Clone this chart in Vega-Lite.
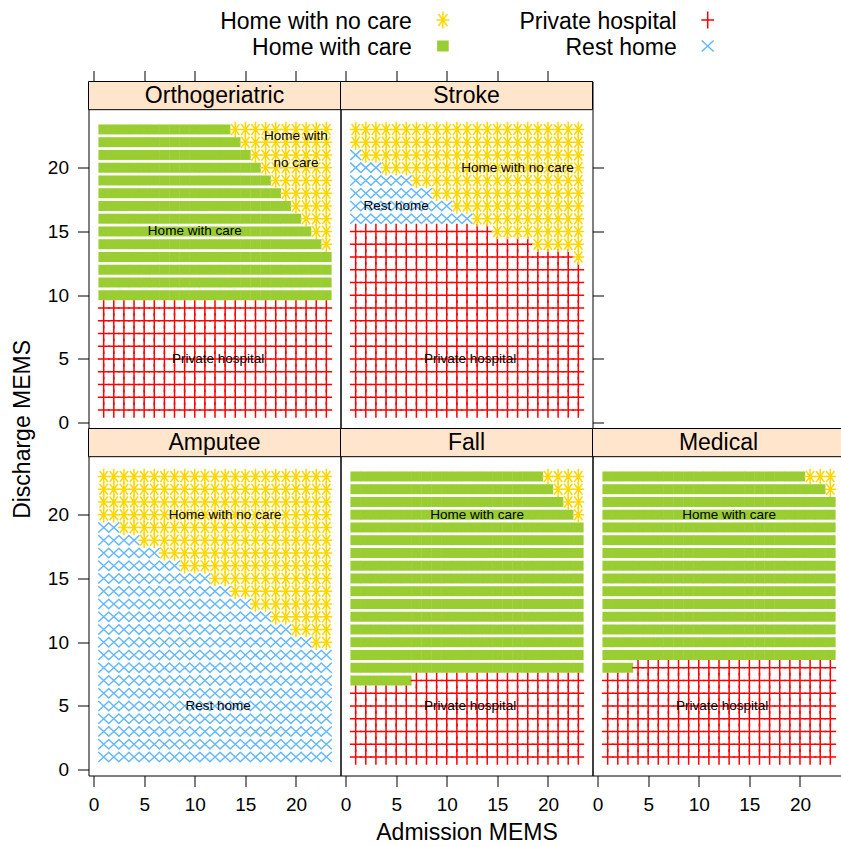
{
"$schema": "https://vega.github.io/schema/vega-lite/v6.json",
"background": "white",
"padding": {"left": 10.5, "top": 7.5, "right": -3.5, "bottom": 0},
"config": {
  "font": "Liberation Sans",
  "view": {"stroke": "black", "strokeWidth": 1},
  "axis": {"domain": false, "grid": false, "ticks": true, "tickSize": 11, "tickColor": "black", "tickWidth": 1, "labelFontSize": 19, "labelColor": "black", "labelFlush": false, "labelOverlap": false, "titleFontSize": 23, "titleFontWeight": "normal", "titleColor": "black"}
},
"datasets": {
  "legend": [
    {"destination": "Home with no care", "lcol": 1, "lrow": 1},
    {"destination": "Home with care", "lcol": 1, "lrow": 2},
    {"destination": "Private hospital", "lcol": 2, "lrow": 1},
    {"destination": "Rest home", "lcol": 2, "lrow": 2}
  ],
  "strips": [
    {"panel": "Orthogeriatric"}, {"panel": "Stroke"}, {"panel": "Amputee"}, {"panel": "Fall"}, {"panel": "Medical"}
  ],
  "labels": [
    {"panel": "Orthogeriatric", "text": "Home with\nno care", "x": 20, "y": 22.5},
    {"panel": "Orthogeriatric", "text": "Home with care", "x": 10, "y": 15},
    {"panel": "Orthogeriatric", "text": "Private hospital", "x": 12.3, "y": 5},
    {"panel": "Stroke", "text": "Home with no care", "x": 17, "y": 20},
    {"panel": "Stroke", "text": "Rest home", "x": 5, "y": 17},
    {"panel": "Stroke", "text": "Private hospital", "x": 12.3, "y": 5},
    {"panel": "Amputee", "text": "Home with no care", "x": 13, "y": 20},
    {"panel": "Amputee", "text": "Rest home", "x": 12.3, "y": 5},
    {"panel": "Fall", "text": "Home with care", "x": 13, "y": 20},
    {"panel": "Fall", "text": "Private hospital", "x": 12.3, "y": 5},
    {"panel": "Medical", "text": "Home with care", "x": 13, "y": 20},
    {"panel": "Medical", "text": "Private hospital", "x": 12.3, "y": 5}
  ],
  "points": [
    {"panel":"Orthogeriatric","discharge":10,"destination":"Home with care","admission":[1,2,3,4,5,6,7,8,9,10,11,12,13,14,15,16,17,18,19,20,21,22,23]},
    {"panel":"Orthogeriatric","discharge":11,"destination":"Home with care","admission":[1,2,3,4,5,6,7,8,9,10,11,12,13,14,15,16,17,18,19,20,21,22,23]},
    {"panel":"Orthogeriatric","discharge":12,"destination":"Home with care","admission":[1,2,3,4,5,6,7,8,9,10,11,12,13,14,15,16,17,18,19,20,21,22,23]},
    {"panel":"Orthogeriatric","discharge":13,"destination":"Home with care","admission":[1,2,3,4,5,6,7,8,9,10,11,12,13,14,15,16,17,18,19,20,21,22,23]},
    {"panel":"Orthogeriatric","discharge":14,"destination":"Home with care","admission":[1,2,3,4,5,6,7,8,9,10,11,12,13,14,15,16,17,18,19,20,21,22]},
    {"panel":"Orthogeriatric","discharge":15,"destination":"Home with care","admission":[1,2,3,4,5,6,7,8,9,10,11,12,13,14,15,16,17,18,19,20,21]},
    {"panel":"Orthogeriatric","discharge":16,"destination":"Home with care","admission":[1,2,3,4,5,6,7,8,9,10,11,12,13,14,15,16,17,18,19,20]},
    {"panel":"Orthogeriatric","discharge":17,"destination":"Home with care","admission":[1,2,3,4,5,6,7,8,9,10,11,12,13,14,15,16,17,18,19]},
    {"panel":"Orthogeriatric","discharge":18,"destination":"Home with care","admission":[1,2,3,4,5,6,7,8,9,10,11,12,13,14,15,16,17,18]},
    {"panel":"Orthogeriatric","discharge":19,"destination":"Home with care","admission":[1,2,3,4,5,6,7,8,9,10,11,12,13,14,15,16,17]},
    {"panel":"Orthogeriatric","discharge":20,"destination":"Home with care","admission":[1,2,3,4,5,6,7,8,9,10,11,12,13,14,15,16]},
    {"panel":"Orthogeriatric","discharge":21,"destination":"Home with care","admission":[1,2,3,4,5,6,7,8,9,10,11,12,13,14,15]},
    {"panel":"Orthogeriatric","discharge":22,"destination":"Home with care","admission":[1,2,3,4,5,6,7,8,9,10,11,12,13,14]},
    {"panel":"Orthogeriatric","discharge":23,"destination":"Home with care","admission":[1,2,3,4,5,6,7,8,9,10,11,12,13]},
    {"panel":"Orthogeriatric","discharge":1,"destination":"Private hospital","admission":[1,2,3,4,5,6,7,8,9,10,11,12,13,14,15,16,17,18,19,20,21,22,23]},
    {"panel":"Orthogeriatric","discharge":2,"destination":"Private hospital","admission":[1,2,3,4,5,6,7,8,9,10,11,12,13,14,15,16,17,18,19,20,21,22,23]},
    {"panel":"Orthogeriatric","discharge":3,"destination":"Private hospital","admission":[1,2,3,4,5,6,7,8,9,10,11,12,13,14,15,16,17,18,19,20,21,22,23]},
    {"panel":"Orthogeriatric","discharge":4,"destination":"Private hospital","admission":[1,2,3,4,5,6,7,8,9,10,11,12,13,14,15,16,17,18,19,20,21,22,23]},
    {"panel":"Orthogeriatric","discharge":5,"destination":"Private hospital","admission":[1,2,3,4,5,6,7,8,9,10,11,12,13,14,15,16,17,18,19,20,21,22,23]},
    {"panel":"Orthogeriatric","discharge":6,"destination":"Private hospital","admission":[1,2,3,4,5,6,7,8,9,10,11,12,13,14,15,16,17,18,19,20,21,22,23]},
    {"panel":"Orthogeriatric","discharge":7,"destination":"Private hospital","admission":[1,2,3,4,5,6,7,8,9,10,11,12,13,14,15,16,17,18,19,20,21,22,23]},
    {"panel":"Orthogeriatric","discharge":8,"destination":"Private hospital","admission":[1,2,3,4,5,6,7,8,9,10,11,12,13,14,15,16,17,18,19,20,21,22,23]},
    {"panel":"Orthogeriatric","discharge":9,"destination":"Private hospital","admission":[1,2,3,4,5,6,7,8,9,10,11,12,13,14,15,16,17,18,19,20,21,22,23]},
    {"panel":"Orthogeriatric","discharge":14,"destination":"Home with no care","admission":[23]},
    {"panel":"Orthogeriatric","discharge":15,"destination":"Home with no care","admission":[22,23]},
    {"panel":"Orthogeriatric","discharge":16,"destination":"Home with no care","admission":[21,22,23]},
    {"panel":"Orthogeriatric","discharge":17,"destination":"Home with no care","admission":[20,21,22,23]},
    {"panel":"Orthogeriatric","discharge":18,"destination":"Home with no care","admission":[19,20,21,22,23]},
    {"panel":"Orthogeriatric","discharge":19,"destination":"Home with no care","admission":[18,19,20,21,22,23]},
    {"panel":"Orthogeriatric","discharge":20,"destination":"Home with no care","admission":[17,18,19,20,21,22,23]},
    {"panel":"Orthogeriatric","discharge":21,"destination":"Home with no care","admission":[16,17,18,19,20,21,22,23]},
    {"panel":"Orthogeriatric","discharge":22,"destination":"Home with no care","admission":[15,16,17,18,19,20,21,22,23]},
    {"panel":"Orthogeriatric","discharge":23,"destination":"Home with no care","admission":[14,15,16,17,18,19,20,21,22,23]},

    {"panel":"Stroke","discharge":1,"destination":"Private hospital","admission":[1,2,3,4,5,6,7,8,9,10,11,12,13,14,15,16,17,18,19,20,21,22,23]},
    {"panel":"Stroke","discharge":2,"destination":"Private hospital","admission":[1,2,3,4,5,6,7,8,9,10,11,12,13,14,15,16,17,18,19,20,21,22,23]},
    {"panel":"Stroke","discharge":3,"destination":"Private hospital","admission":[1,2,3,4,5,6,7,8,9,10,11,12,13,14,15,16,17,18,19,20,21,22,23]},
    {"panel":"Stroke","discharge":4,"destination":"Private hospital","admission":[1,2,3,4,5,6,7,8,9,10,11,12,13,14,15,16,17,18,19,20,21,22,23]},
    {"panel":"Stroke","discharge":5,"destination":"Private hospital","admission":[1,2,3,4,5,6,7,8,9,10,11,12,13,14,15,16,17,18,19,20,21,22,23]},
    {"panel":"Stroke","discharge":6,"destination":"Private hospital","admission":[1,2,3,4,5,6,7,8,9,10,11,12,13,14,15,16,17,18,19,20,21,22,23]},
    {"panel":"Stroke","discharge":7,"destination":"Private hospital","admission":[1,2,3,4,5,6,7,8,9,10,11,12,13,14,15,16,17,18,19,20,21,22,23]},
    {"panel":"Stroke","discharge":8,"destination":"Private hospital","admission":[1,2,3,4,5,6,7,8,9,10,11,12,13,14,15,16,17,18,19,20,21,22,23]},
    {"panel":"Stroke","discharge":9,"destination":"Private hospital","admission":[1,2,3,4,5,6,7,8,9,10,11,12,13,14,15,16,17,18,19,20,21,22,23]},
    {"panel":"Stroke","discharge":10,"destination":"Private hospital","admission":[1,2,3,4,5,6,7,8,9,10,11,12,13,14,15,16,17,18,19,20,21,22,23]},
    {"panel":"Stroke","discharge":11,"destination":"Private hospital","admission":[1,2,3,4,5,6,7,8,9,10,11,12,13,14,15,16,17,18,19,20,21,22,23]},
    {"panel":"Stroke","discharge":12,"destination":"Private hospital","admission":[1,2,3,4,5,6,7,8,9,10,11,12,13,14,15,16,17,18,19,20,21,22,23]},
    {"panel":"Stroke","discharge":13,"destination":"Private hospital","admission":[1,2,3,4,5,6,7,8,9,10,11,12,13,14,15,16,17,18,19,20,21,22]},
    {"panel":"Stroke","discharge":14,"destination":"Private hospital","admission":[1,2,3,4,5,6,7,8,9,10,11,12,13,14,15,16,17,18]},
    {"panel":"Stroke","discharge":15,"destination":"Private hospital","admission":[1,2,3,4,5,6,7,8,9,10,11,12,13,14]},
    {"panel":"Stroke","discharge":16,"destination":"Rest home","admission":[1,2,3,4,5,6,7,8,9,10,11,12]},
    {"panel":"Stroke","discharge":17,"destination":"Rest home","admission":[1,2,3,4,5,6,7,8,9,10]},
    {"panel":"Stroke","discharge":18,"destination":"Rest home","admission":[1,2,3,4,5,6,7,8]},
    {"panel":"Stroke","discharge":19,"destination":"Rest home","admission":[1,2,3,4,5,6]},
    {"panel":"Stroke","discharge":20,"destination":"Rest home","admission":[1,2,3]},
    {"panel":"Stroke","discharge":21,"destination":"Rest home","admission":[1]},
    {"panel":"Stroke","discharge":13,"destination":"Home with no care","admission":[23]},
    {"panel":"Stroke","discharge":14,"destination":"Home with no care","admission":[19,20,21,22,23]},
    {"panel":"Stroke","discharge":15,"destination":"Home with no care","admission":[15,16,17,18,19,20,21,22,23]},
    {"panel":"Stroke","discharge":16,"destination":"Home with no care","admission":[13,14,15,16,17,18,19,20,21,22,23]},
    {"panel":"Stroke","discharge":17,"destination":"Home with no care","admission":[11,12,13,14,15,16,17,18,19,20,21,22,23]},
    {"panel":"Stroke","discharge":18,"destination":"Home with no care","admission":[9,10,11,12,13,14,15,16,17,18,19,20,21,22,23]},
    {"panel":"Stroke","discharge":19,"destination":"Home with no care","admission":[7,8,9,10,11,12,13,14,15,16,17,18,19,20,21,22,23]},
    {"panel":"Stroke","discharge":20,"destination":"Home with no care","admission":[4,5,6,7,8,9,10,11,12,13,14,15,16,17,18,19,20,21,22,23]},
    {"panel":"Stroke","discharge":21,"destination":"Home with no care","admission":[2,3,4,5,6,7,8,9,10,11,12,13,14,15,16,17,18,19,20,21,22,23]},
    {"panel":"Stroke","discharge":22,"destination":"Home with no care","admission":[1,2,3,4,5,6,7,8,9,10,11,12,13,14,15,16,17,18,19,20,21,22,23]},
    {"panel":"Stroke","discharge":23,"destination":"Home with no care","admission":[1,2,3,4,5,6,7,8,9,10,11,12,13,14,15,16,17,18,19,20,21,22,23]},

    {"panel":"Amputee","discharge":1,"destination":"Rest home","admission":[1,2,3,4,5,6,7,8,9,10,11,12,13,14,15,16,17,18,19,20,21,22,23]},
    {"panel":"Amputee","discharge":2,"destination":"Rest home","admission":[1,2,3,4,5,6,7,8,9,10,11,12,13,14,15,16,17,18,19,20,21,22,23]},
    {"panel":"Amputee","discharge":3,"destination":"Rest home","admission":[1,2,3,4,5,6,7,8,9,10,11,12,13,14,15,16,17,18,19,20,21,22,23]},
    {"panel":"Amputee","discharge":4,"destination":"Rest home","admission":[1,2,3,4,5,6,7,8,9,10,11,12,13,14,15,16,17,18,19,20,21,22,23]},
    {"panel":"Amputee","discharge":5,"destination":"Rest home","admission":[1,2,3,4,5,6,7,8,9,10,11,12,13,14,15,16,17,18,19,20,21,22,23]},
    {"panel":"Amputee","discharge":6,"destination":"Rest home","admission":[1,2,3,4,5,6,7,8,9,10,11,12,13,14,15,16,17,18,19,20,21,22,23]},
    {"panel":"Amputee","discharge":7,"destination":"Rest home","admission":[1,2,3,4,5,6,7,8,9,10,11,12,13,14,15,16,17,18,19,20,21,22,23]},
    {"panel":"Amputee","discharge":8,"destination":"Rest home","admission":[1,2,3,4,5,6,7,8,9,10,11,12,13,14,15,16,17,18,19,20,21,22,23]},
    {"panel":"Amputee","discharge":9,"destination":"Rest home","admission":[1,2,3,4,5,6,7,8,9,10,11,12,13,14,15,16,17,18,19,20,21,22,23]},
    {"panel":"Amputee","discharge":10,"destination":"Rest home","admission":[1,2,3,4,5,6,7,8,9,10,11,12,13,14,15,16,17,18,19,20,21]},
    {"panel":"Amputee","discharge":11,"destination":"Rest home","admission":[1,2,3,4,5,6,7,8,9,10,11,12,13,14,15,16,17,18,19]},
    {"panel":"Amputee","discharge":12,"destination":"Rest home","admission":[1,2,3,4,5,6,7,8,9,10,11,12,13,14,15,16,17]},
    {"panel":"Amputee","discharge":13,"destination":"Rest home","admission":[1,2,3,4,5,6,7,8,9,10,11,12,13,14,15]},
    {"panel":"Amputee","discharge":14,"destination":"Rest home","admission":[1,2,3,4,5,6,7,8,9,10,11,12,13]},
    {"panel":"Amputee","discharge":15,"destination":"Rest home","admission":[1,2,3,4,5,6,7,8,9,10,11]},
    {"panel":"Amputee","discharge":16,"destination":"Rest home","admission":[1,2,3,4,5,6,7,8]},
    {"panel":"Amputee","discharge":17,"destination":"Rest home","admission":[1,2,3,4,5,6]},
    {"panel":"Amputee","discharge":18,"destination":"Rest home","admission":[1,2,3,4]},
    {"panel":"Amputee","discharge":19,"destination":"Rest home","admission":[1,2]},
    {"panel":"Amputee","discharge":10,"destination":"Home with no care","admission":[22,23]},
    {"panel":"Amputee","discharge":11,"destination":"Home with no care","admission":[20,21,22,23]},
    {"panel":"Amputee","discharge":12,"destination":"Home with no care","admission":[18,19,20,21,22,23]},
    {"panel":"Amputee","discharge":13,"destination":"Home with no care","admission":[16,17,18,19,20,21,22,23]},
    {"panel":"Amputee","discharge":14,"destination":"Home with no care","admission":[14,15,16,17,18,19,20,21,22,23]},
    {"panel":"Amputee","discharge":15,"destination":"Home with no care","admission":[12,13,14,15,16,17,18,19,20,21,22,23]},
    {"panel":"Amputee","discharge":16,"destination":"Home with no care","admission":[9,10,11,12,13,14,15,16,17,18,19,20,21,22,23]},
    {"panel":"Amputee","discharge":17,"destination":"Home with no care","admission":[7,8,9,10,11,12,13,14,15,16,17,18,19,20,21,22,23]},
    {"panel":"Amputee","discharge":18,"destination":"Home with no care","admission":[5,6,7,8,9,10,11,12,13,14,15,16,17,18,19,20,21,22,23]},
    {"panel":"Amputee","discharge":19,"destination":"Home with no care","admission":[3,4,5,6,7,8,9,10,11,12,13,14,15,16,17,18,19,20,21,22,23]},
    {"panel":"Amputee","discharge":20,"destination":"Home with no care","admission":[1,2,3,4,5,6,7,8,9,10,11,12,13,14,15,16,17,18,19,20,21,22,23]},
    {"panel":"Amputee","discharge":21,"destination":"Home with no care","admission":[1,2,3,4,5,6,7,8,9,10,11,12,13,14,15,16,17,18,19,20,21,22,23]},
    {"panel":"Amputee","discharge":22,"destination":"Home with no care","admission":[1,2,3,4,5,6,7,8,9,10,11,12,13,14,15,16,17,18,19,20,21,22,23]},
    {"panel":"Amputee","discharge":23,"destination":"Home with no care","admission":[1,2,3,4,5,6,7,8,9,10,11,12,13,14,15,16,17,18,19,20,21,22,23]},

    {"panel":"Fall","discharge":7,"destination":"Home with care","admission":[1,2,3,4,5,6]},
    {"panel":"Fall","discharge":8,"destination":"Home with care","admission":[1,2,3,4,5,6,7,8,9,10,11,12,13,14,15,16,17,18,19,20,21,22,23]},
    {"panel":"Fall","discharge":9,"destination":"Home with care","admission":[1,2,3,4,5,6,7,8,9,10,11,12,13,14,15,16,17,18,19,20,21,22,23]},
    {"panel":"Fall","discharge":10,"destination":"Home with care","admission":[1,2,3,4,5,6,7,8,9,10,11,12,13,14,15,16,17,18,19,20,21,22,23]},
    {"panel":"Fall","discharge":11,"destination":"Home with care","admission":[1,2,3,4,5,6,7,8,9,10,11,12,13,14,15,16,17,18,19,20,21,22,23]},
    {"panel":"Fall","discharge":12,"destination":"Home with care","admission":[1,2,3,4,5,6,7,8,9,10,11,12,13,14,15,16,17,18,19,20,21,22,23]},
    {"panel":"Fall","discharge":13,"destination":"Home with care","admission":[1,2,3,4,5,6,7,8,9,10,11,12,13,14,15,16,17,18,19,20,21,22,23]},
    {"panel":"Fall","discharge":14,"destination":"Home with care","admission":[1,2,3,4,5,6,7,8,9,10,11,12,13,14,15,16,17,18,19,20,21,22,23]},
    {"panel":"Fall","discharge":15,"destination":"Home with care","admission":[1,2,3,4,5,6,7,8,9,10,11,12,13,14,15,16,17,18,19,20,21,22,23]},
    {"panel":"Fall","discharge":16,"destination":"Home with care","admission":[1,2,3,4,5,6,7,8,9,10,11,12,13,14,15,16,17,18,19,20,21,22,23]},
    {"panel":"Fall","discharge":17,"destination":"Home with care","admission":[1,2,3,4,5,6,7,8,9,10,11,12,13,14,15,16,17,18,19,20,21,22,23]},
    {"panel":"Fall","discharge":18,"destination":"Home with care","admission":[1,2,3,4,5,6,7,8,9,10,11,12,13,14,15,16,17,18,19,20,21,22,23]},
    {"panel":"Fall","discharge":19,"destination":"Home with care","admission":[1,2,3,4,5,6,7,8,9,10,11,12,13,14,15,16,17,18,19,20,21,22,23]},
    {"panel":"Fall","discharge":20,"destination":"Home with care","admission":[1,2,3,4,5,6,7,8,9,10,11,12,13,14,15,16,17,18,19,20,21,22]},
    {"panel":"Fall","discharge":21,"destination":"Home with care","admission":[1,2,3,4,5,6,7,8,9,10,11,12,13,14,15,16,17,18,19,20,21]},
    {"panel":"Fall","discharge":22,"destination":"Home with care","admission":[1,2,3,4,5,6,7,8,9,10,11,12,13,14,15,16,17,18,19,20]},
    {"panel":"Fall","discharge":23,"destination":"Home with care","admission":[1,2,3,4,5,6,7,8,9,10,11,12,13,14,15,16,17,18,19]},
    {"panel":"Fall","discharge":1,"destination":"Private hospital","admission":[1,2,3,4,5,6,7,8,9,10,11,12,13,14,15,16,17,18,19,20,21,22,23]},
    {"panel":"Fall","discharge":2,"destination":"Private hospital","admission":[1,2,3,4,5,6,7,8,9,10,11,12,13,14,15,16,17,18,19,20,21,22,23]},
    {"panel":"Fall","discharge":3,"destination":"Private hospital","admission":[1,2,3,4,5,6,7,8,9,10,11,12,13,14,15,16,17,18,19,20,21,22,23]},
    {"panel":"Fall","discharge":4,"destination":"Private hospital","admission":[1,2,3,4,5,6,7,8,9,10,11,12,13,14,15,16,17,18,19,20,21,22,23]},
    {"panel":"Fall","discharge":5,"destination":"Private hospital","admission":[1,2,3,4,5,6,7,8,9,10,11,12,13,14,15,16,17,18,19,20,21,22,23]},
    {"panel":"Fall","discharge":6,"destination":"Private hospital","admission":[1,2,3,4,5,6,7,8,9,10,11,12,13,14,15,16,17,18,19,20,21,22,23]},
    {"panel":"Fall","discharge":7,"destination":"Private hospital","admission":[7,8,9,10,11,12,13,14,15,16,17,18,19,20,21,22,23]},
    {"panel":"Fall","discharge":20,"destination":"Home with no care","admission":[23]},
    {"panel":"Fall","discharge":21,"destination":"Home with no care","admission":[22,23]},
    {"panel":"Fall","discharge":22,"destination":"Home with no care","admission":[21,22,23]},
    {"panel":"Fall","discharge":23,"destination":"Home with no care","admission":[20,21,22,23]},

    {"panel":"Medical","discharge":8,"destination":"Home with care","admission":[1,2,3]},
    {"panel":"Medical","discharge":9,"destination":"Home with care","admission":[1,2,3,4,5,6,7,8,9,10,11,12,13,14,15,16,17,18,19,20,21,22,23]},
    {"panel":"Medical","discharge":10,"destination":"Home with care","admission":[1,2,3,4,5,6,7,8,9,10,11,12,13,14,15,16,17,18,19,20,21,22,23]},
    {"panel":"Medical","discharge":11,"destination":"Home with care","admission":[1,2,3,4,5,6,7,8,9,10,11,12,13,14,15,16,17,18,19,20,21,22,23]},
    {"panel":"Medical","discharge":12,"destination":"Home with care","admission":[1,2,3,4,5,6,7,8,9,10,11,12,13,14,15,16,17,18,19,20,21,22,23]},
    {"panel":"Medical","discharge":13,"destination":"Home with care","admission":[1,2,3,4,5,6,7,8,9,10,11,12,13,14,15,16,17,18,19,20,21,22,23]},
    {"panel":"Medical","discharge":14,"destination":"Home with care","admission":[1,2,3,4,5,6,7,8,9,10,11,12,13,14,15,16,17,18,19,20,21,22,23]},
    {"panel":"Medical","discharge":15,"destination":"Home with care","admission":[1,2,3,4,5,6,7,8,9,10,11,12,13,14,15,16,17,18,19,20,21,22,23]},
    {"panel":"Medical","discharge":16,"destination":"Home with care","admission":[1,2,3,4,5,6,7,8,9,10,11,12,13,14,15,16,17,18,19,20,21,22,23]},
    {"panel":"Medical","discharge":17,"destination":"Home with care","admission":[1,2,3,4,5,6,7,8,9,10,11,12,13,14,15,16,17,18,19,20,21,22,23]},
    {"panel":"Medical","discharge":18,"destination":"Home with care","admission":[1,2,3,4,5,6,7,8,9,10,11,12,13,14,15,16,17,18,19,20,21,22,23]},
    {"panel":"Medical","discharge":19,"destination":"Home with care","admission":[1,2,3,4,5,6,7,8,9,10,11,12,13,14,15,16,17,18,19,20,21,22,23]},
    {"panel":"Medical","discharge":20,"destination":"Home with care","admission":[1,2,3,4,5,6,7,8,9,10,11,12,13,14,15,16,17,18,19,20,21,22,23]},
    {"panel":"Medical","discharge":21,"destination":"Home with care","admission":[1,2,3,4,5,6,7,8,9,10,11,12,13,14,15,16,17,18,19,20,21,22,23]},
    {"panel":"Medical","discharge":22,"destination":"Home with care","admission":[1,2,3,4,5,6,7,8,9,10,11,12,13,14,15,16,17,18,19,20,21,22]},
    {"panel":"Medical","discharge":23,"destination":"Home with care","admission":[1,2,3,4,5,6,7,8,9,10,11,12,13,14,15,16,17,18,19,20]},
    {"panel":"Medical","discharge":1,"destination":"Private hospital","admission":[1,2,3,4,5,6,7,8,9,10,11,12,13,14,15,16,17,18,19,20,21,22,23]},
    {"panel":"Medical","discharge":2,"destination":"Private hospital","admission":[1,2,3,4,5,6,7,8,9,10,11,12,13,14,15,16,17,18,19,20,21,22,23]},
    {"panel":"Medical","discharge":3,"destination":"Private hospital","admission":[1,2,3,4,5,6,7,8,9,10,11,12,13,14,15,16,17,18,19,20,21,22,23]},
    {"panel":"Medical","discharge":4,"destination":"Private hospital","admission":[1,2,3,4,5,6,7,8,9,10,11,12,13,14,15,16,17,18,19,20,21,22,23]},
    {"panel":"Medical","discharge":5,"destination":"Private hospital","admission":[1,2,3,4,5,6,7,8,9,10,11,12,13,14,15,16,17,18,19,20,21,22,23]},
    {"panel":"Medical","discharge":6,"destination":"Private hospital","admission":[1,2,3,4,5,6,7,8,9,10,11,12,13,14,15,16,17,18,19,20,21,22,23]},
    {"panel":"Medical","discharge":7,"destination":"Private hospital","admission":[1,2,3,4,5,6,7,8,9,10,11,12,13,14,15,16,17,18,19,20,21,22,23]},
    {"panel":"Medical","discharge":8,"destination":"Private hospital","admission":[4,5,6,7,8,9,10,11,12,13,14,15,16,17,18,19,20,21,22,23]},
    {"panel":"Medical","discharge":22,"destination":"Home with no care","admission":[23]},
    {"panel":"Medical","discharge":23,"destination":"Home with no care","admission":[21,22,23]}
  ]
},
"spacing": 10,
"vconcat": [
  {
    "width": 756, "height": 45,
    "view": {"stroke": null},
    "data": {"name": "legend"},
    "layer": [
      {
        "mark": {"type": "text", "align": "right", "baseline": "middle", "dx": -31, "dy": 1.5, "fontSize": 23, "color": "black"},
        "encoding": {
          "x": {"field": "lcol", "type": "ordinal", "scale": {"type": "point", "range": [354.4, 619.2], "padding": 0}, "axis": null},
          "y": {"field": "lrow", "type": "ordinal", "scale": {"type": "point", "range": [9.5, 35.5], "padding": 0}, "axis": null},
          "text": {"field": "destination"}
        }
      },
      {
        "mark": {"type": "point", "filled": true, "size": 290, "opacity": 1, "strokeWidth": 1.5},
        "encoding": {
          "x": {"field": "lcol", "type": "ordinal", "scale": {"type": "point", "range": [354.4, 619.2], "padding": 0}, "axis": null},
          "y": {"field": "lrow", "type": "ordinal", "scale": {"type": "point", "range": [9.5, 35.5], "padding": 0}, "axis": null},
          "shape": {"field": "destination", "type": "nominal", "legend": null, "scale": {"domain": ["Home with no care", "Home with care", "Private hospital", "Rest home"], "range": ["M-0.75,0L0.75,0M0,-1L0,1M-0.53,-0.71L0.53,0.71M-0.53,0.71L0.53,-0.71", "M-0.68,-0.645L0.68,-0.645L0.68,0.645L-0.68,0.645Z", "M-0.75,0L0.75,0M0,-1L0,1", "M-0.7,-0.65L0.7,0.65M-0.7,0.65L0.7,-0.65"]}},
          "fill": {"field": "destination", "type": "nominal", "legend": null, "scale": {"domain": ["Home with no care", "Home with care", "Private hospital", "Rest home"], "range": ["transparent", "#9ACD32", "transparent", "transparent"]}},
          "stroke": {"field": "destination", "type": "nominal", "legend": null, "scale": {"domain": ["Home with no care", "Home with care", "Private hospital", "Rest home"], "range": ["#FFD700", "transparent", "#FF0000", "#63B8FF"]}}
        }
      }
    ]
  },
  {
    "columns": 3,
    "spacing": 0,
    "bounds": "flush",
    "concat": [
      {
        "width": 252, "height": 347,
        "layer": [
          {
            "data": {"name": "points"},
            "transform": [{"filter": {"field": "panel", "equal": "Orthogeriatric"}}, {"flatten": ["admission"]}],
            "mark": {"type": "point", "filled": true, "size": 240, "opacity": 1, "strokeWidth": 1.5},
            "encoding": {
              "x": {"field": "admission", "type": "quantitative", "scale": {"domain": [-0.5, 24.4], "nice": false, "zero": false}, "axis": {"orient": "top", "values": [0, 5, 10, 15, 20], "labels": false, "title": null}},
              "y": {"field": "discharge", "type": "quantitative", "scale": {"domain": [-0.45, 26.76], "nice": false, "zero": false}, "axis": {"orient": "left", "values": [0, 5, 10, 15, 20], "labelPadding": 9, "title": "Discharge MEMS", "titleX": -66.3, "titleY": 347.4, "titleAngle": -90, "titleAlign": "center", "titleBaseline": "middle"}},
              "shape": {"field": "destination", "type": "nominal", "legend": null, "scale": {"domain": ["Home with no care", "Home with care", "Private hospital", "Rest home"], "range": ["M-0.75,0L0.75,0M0,-1L0,1M-0.53,-0.71L0.53,0.71M-0.53,0.71L0.53,-0.71", "M-0.68,-0.645L0.68,-0.645L0.68,0.645L-0.68,0.645Z", "M-0.75,0L0.75,0M0,-1L0,1", "M-0.7,-0.65L0.7,0.65M-0.7,0.65L0.7,-0.65"]}},
              "fill": {"field": "destination", "type": "nominal", "legend": null, "scale": {"domain": ["Home with no care", "Home with care", "Private hospital", "Rest home"], "range": ["transparent", "#9ACD32", "transparent", "transparent"]}},
              "stroke": {"field": "destination", "type": "nominal", "legend": null, "scale": {"domain": ["Home with no care", "Home with care", "Private hospital", "Rest home"], "range": ["#FFD700", "transparent", "#FF0000", "#63B8FF"]}}
            }
          },
          {
            "data": {"name": "labels"},
            "transform": [{"filter": {"field": "panel", "equal": "Orthogeriatric"}}],
            "mark": {"type": "text", "fontSize": 13.5, "baseline": "middle", "align": "center", "color": "black", "lineBreak": "\n", "lineHeight": 26.7},
            "encoding": {
              "x": {"field": "x", "type": "quantitative", "scale": {"domain": [-0.5, 24.4], "nice": false, "zero": false}},
              "y": {"field": "y", "type": "quantitative", "scale": {"domain": [-0.45, 26.76], "nice": false, "zero": false}},
              "text": {"field": "text"}
            }
          },
          {
            "data": {"name": "strips"},
            "transform": [{"filter": {"field": "panel", "equal": "Orthogeriatric"}}],
            "mark": {"type": "rect", "fill": "#FFE5CC", "stroke": "black", "strokeWidth": 1},
            "encoding": {
              "x": {"datum": -0.5, "type": "quantitative", "scale": {"domain": [-0.5, 24.4], "nice": false, "zero": false}},
              "x2": {"datum": 24.4},
              "y": {"datum": 24.55, "type": "quantitative", "scale": {"domain": [-0.45, 26.76], "nice": false, "zero": false}},
              "y2": {"datum": 26.76}
            }
          },
          {
            "data": {"name": "strips"},
            "transform": [{"filter": {"field": "panel", "equal": "Orthogeriatric"}}],
            "mark": {"type": "text", "fontSize": 23, "baseline": "middle", "align": "center", "color": "black"},
            "encoding": {
              "x": {"datum": 11.95, "type": "quantitative", "scale": {"domain": [-0.5, 24.4], "nice": false, "zero": false}},
              "y": {"datum": 25.655, "type": "quantitative", "scale": {"domain": [-0.45, 26.76], "nice": false, "zero": false}},
              "text": {"field": "panel"}
            }
          }
        ]
      },
      {
        "width": 252, "height": 347,
        "layer": [
          {
            "data": {"name": "points"},
            "transform": [{"filter": {"field": "panel", "equal": "Stroke"}}, {"flatten": ["admission"]}],
            "mark": {"type": "point", "filled": true, "size": 240, "opacity": 1, "strokeWidth": 1.5},
            "encoding": {
              "x": {"field": "admission", "type": "quantitative", "scale": {"domain": [-0.5, 24.4], "nice": false, "zero": false}, "axis": {"orient": "top", "values": [0, 5, 10, 15, 20], "labels": false, "title": null}},
              "y": {"field": "discharge", "type": "quantitative", "scale": {"domain": [-0.45, 26.76], "nice": false, "zero": false}, "axis": {"orient": "right", "values": [0, 5, 10, 15, 20], "labels": false, "title": null}},
              "shape": {"field": "destination", "type": "nominal", "legend": null, "scale": {"domain": ["Home with no care", "Home with care", "Private hospital", "Rest home"], "range": ["M-0.75,0L0.75,0M0,-1L0,1M-0.53,-0.71L0.53,0.71M-0.53,0.71L0.53,-0.71", "M-0.68,-0.645L0.68,-0.645L0.68,0.645L-0.68,0.645Z", "M-0.75,0L0.75,0M0,-1L0,1", "M-0.7,-0.65L0.7,0.65M-0.7,0.65L0.7,-0.65"]}},
              "fill": {"field": "destination", "type": "nominal", "legend": null, "scale": {"domain": ["Home with no care", "Home with care", "Private hospital", "Rest home"], "range": ["transparent", "#9ACD32", "transparent", "transparent"]}},
              "stroke": {"field": "destination", "type": "nominal", "legend": null, "scale": {"domain": ["Home with no care", "Home with care", "Private hospital", "Rest home"], "range": ["#FFD700", "transparent", "#FF0000", "#63B8FF"]}}
            }
          },
          {
            "data": {"name": "labels"},
            "transform": [{"filter": {"field": "panel", "equal": "Stroke"}}],
            "mark": {"type": "text", "fontSize": 13.5, "baseline": "middle", "align": "center", "color": "black", "lineBreak": "\n", "lineHeight": 26.7},
            "encoding": {
              "x": {"field": "x", "type": "quantitative", "scale": {"domain": [-0.5, 24.4], "nice": false, "zero": false}},
              "y": {"field": "y", "type": "quantitative", "scale": {"domain": [-0.45, 26.76], "nice": false, "zero": false}},
              "text": {"field": "text"}
            }
          },
          {
            "data": {"name": "strips"},
            "transform": [{"filter": {"field": "panel", "equal": "Stroke"}}],
            "mark": {"type": "rect", "fill": "#FFE5CC", "stroke": "black", "strokeWidth": 1},
            "encoding": {
              "x": {"datum": -0.5, "type": "quantitative", "scale": {"domain": [-0.5, 24.4], "nice": false, "zero": false}},
              "x2": {"datum": 24.4},
              "y": {"datum": 24.55, "type": "quantitative", "scale": {"domain": [-0.45, 26.76], "nice": false, "zero": false}},
              "y2": {"datum": 26.76}
            }
          },
          {
            "data": {"name": "strips"},
            "transform": [{"filter": {"field": "panel", "equal": "Stroke"}}],
            "mark": {"type": "text", "fontSize": 23, "baseline": "middle", "align": "center", "color": "black"},
            "encoding": {
              "x": {"datum": 11.95, "type": "quantitative", "scale": {"domain": [-0.5, 24.4], "nice": false, "zero": false}},
              "y": {"datum": 25.655, "type": "quantitative", "scale": {"domain": [-0.45, 26.76], "nice": false, "zero": false}},
              "text": {"field": "panel"}
            }
          }
        ]
      },
      {
        "width": 252, "height": 347,
        "view": {"stroke": null},
        "data": {"name": "strips"},
        "transform": [{"filter": "false"}],
        "mark": {"type": "text"},
        "encoding": {"text": {"field": "panel"}}
      },
      {
        "width": 252, "height": 347,
        "layer": [
          {
            "data": {"name": "points"},
            "transform": [{"filter": {"field": "panel", "equal": "Amputee"}}, {"flatten": ["admission"]}],
            "mark": {"type": "point", "filled": true, "size": 240, "opacity": 1, "strokeWidth": 1.5},
            "encoding": {
              "x": {"field": "admission", "type": "quantitative", "scale": {"domain": [-0.5, 24.4], "nice": false, "zero": false}, "axis": {"orient": "bottom", "values": [0, 5, 10, 15, 20], "labelPadding": 8.5, "title": null}},
              "y": {"field": "discharge", "type": "quantitative", "scale": {"domain": [-0.45, 26.76], "nice": false, "zero": false}, "axis": {"orient": "left", "values": [0, 5, 10, 15, 20], "labelPadding": 9, "title": null}},
              "shape": {"field": "destination", "type": "nominal", "legend": null, "scale": {"domain": ["Home with no care", "Home with care", "Private hospital", "Rest home"], "range": ["M-0.75,0L0.75,0M0,-1L0,1M-0.53,-0.71L0.53,0.71M-0.53,0.71L0.53,-0.71", "M-0.68,-0.645L0.68,-0.645L0.68,0.645L-0.68,0.645Z", "M-0.75,0L0.75,0M0,-1L0,1", "M-0.7,-0.65L0.7,0.65M-0.7,0.65L0.7,-0.65"]}},
              "fill": {"field": "destination", "type": "nominal", "legend": null, "scale": {"domain": ["Home with no care", "Home with care", "Private hospital", "Rest home"], "range": ["transparent", "#9ACD32", "transparent", "transparent"]}},
              "stroke": {"field": "destination", "type": "nominal", "legend": null, "scale": {"domain": ["Home with no care", "Home with care", "Private hospital", "Rest home"], "range": ["#FFD700", "transparent", "#FF0000", "#63B8FF"]}}
            }
          },
          {
            "data": {"name": "labels"},
            "transform": [{"filter": {"field": "panel", "equal": "Amputee"}}],
            "mark": {"type": "text", "fontSize": 13.5, "baseline": "middle", "align": "center", "color": "black", "lineBreak": "\n", "lineHeight": 26.7},
            "encoding": {
              "x": {"field": "x", "type": "quantitative", "scale": {"domain": [-0.5, 24.4], "nice": false, "zero": false}},
              "y": {"field": "y", "type": "quantitative", "scale": {"domain": [-0.45, 26.76], "nice": false, "zero": false}},
              "text": {"field": "text"}
            }
          },
          {
            "data": {"name": "strips"},
            "transform": [{"filter": {"field": "panel", "equal": "Amputee"}}],
            "mark": {"type": "rect", "fill": "#FFE5CC", "stroke": "black", "strokeWidth": 1},
            "encoding": {
              "x": {"datum": -0.5, "type": "quantitative", "scale": {"domain": [-0.5, 24.4], "nice": false, "zero": false}},
              "x2": {"datum": 24.4},
              "y": {"datum": 24.55, "type": "quantitative", "scale": {"domain": [-0.45, 26.76], "nice": false, "zero": false}},
              "y2": {"datum": 26.76}
            }
          },
          {
            "data": {"name": "strips"},
            "transform": [{"filter": {"field": "panel", "equal": "Amputee"}}],
            "mark": {"type": "text", "fontSize": 23, "baseline": "middle", "align": "center", "color": "black"},
            "encoding": {
              "x": {"datum": 11.95, "type": "quantitative", "scale": {"domain": [-0.5, 24.4], "nice": false, "zero": false}},
              "y": {"datum": 25.655, "type": "quantitative", "scale": {"domain": [-0.45, 26.76], "nice": false, "zero": false}},
              "text": {"field": "panel"}
            }
          }
        ]
      },
      {
        "width": 252, "height": 347,
        "layer": [
          {
            "data": {"name": "points"},
            "transform": [{"filter": {"field": "panel", "equal": "Fall"}}, {"flatten": ["admission"]}],
            "mark": {"type": "point", "filled": true, "size": 240, "opacity": 1, "strokeWidth": 1.5},
            "encoding": {
              "x": {"field": "admission", "type": "quantitative", "scale": {"domain": [-0.5, 24.4], "nice": false, "zero": false}, "axis": {"orient": "bottom", "values": [0, 5, 10, 15, 20], "labelPadding": 8.5, "title": "Admission MEMS", "titleX": 126, "titleY": 57.3, "titleAlign": "center", "titleBaseline": "middle"}},
              "y": {"field": "discharge", "type": "quantitative", "scale": {"domain": [-0.45, 26.76], "nice": false, "zero": false}, "axis": {"orient": "left", "values": [0, 5, 10, 15, 20], "labels": false, "ticks": false, "title": null}},
              "shape": {"field": "destination", "type": "nominal", "legend": null, "scale": {"domain": ["Home with no care", "Home with care", "Private hospital", "Rest home"], "range": ["M-0.75,0L0.75,0M0,-1L0,1M-0.53,-0.71L0.53,0.71M-0.53,0.71L0.53,-0.71", "M-0.68,-0.645L0.68,-0.645L0.68,0.645L-0.68,0.645Z", "M-0.75,0L0.75,0M0,-1L0,1", "M-0.7,-0.65L0.7,0.65M-0.7,0.65L0.7,-0.65"]}},
              "fill": {"field": "destination", "type": "nominal", "legend": null, "scale": {"domain": ["Home with no care", "Home with care", "Private hospital", "Rest home"], "range": ["transparent", "#9ACD32", "transparent", "transparent"]}},
              "stroke": {"field": "destination", "type": "nominal", "legend": null, "scale": {"domain": ["Home with no care", "Home with care", "Private hospital", "Rest home"], "range": ["#FFD700", "transparent", "#FF0000", "#63B8FF"]}}
            }
          },
          {
            "data": {"name": "labels"},
            "transform": [{"filter": {"field": "panel", "equal": "Fall"}}],
            "mark": {"type": "text", "fontSize": 13.5, "baseline": "middle", "align": "center", "color": "black", "lineBreak": "\n", "lineHeight": 26.7},
            "encoding": {
              "x": {"field": "x", "type": "quantitative", "scale": {"domain": [-0.5, 24.4], "nice": false, "zero": false}},
              "y": {"field": "y", "type": "quantitative", "scale": {"domain": [-0.45, 26.76], "nice": false, "zero": false}},
              "text": {"field": "text"}
            }
          },
          {
            "data": {"name": "strips"},
            "transform": [{"filter": {"field": "panel", "equal": "Fall"}}],
            "mark": {"type": "rect", "fill": "#FFE5CC", "stroke": "black", "strokeWidth": 1},
            "encoding": {
              "x": {"datum": -0.5, "type": "quantitative", "scale": {"domain": [-0.5, 24.4], "nice": false, "zero": false}},
              "x2": {"datum": 24.4},
              "y": {"datum": 24.55, "type": "quantitative", "scale": {"domain": [-0.45, 26.76], "nice": false, "zero": false}},
              "y2": {"datum": 26.76}
            }
          },
          {
            "data": {"name": "strips"},
            "transform": [{"filter": {"field": "panel", "equal": "Fall"}}],
            "mark": {"type": "text", "fontSize": 23, "baseline": "middle", "align": "center", "color": "black"},
            "encoding": {
              "x": {"datum": 11.95, "type": "quantitative", "scale": {"domain": [-0.5, 24.4], "nice": false, "zero": false}},
              "y": {"datum": 25.655, "type": "quantitative", "scale": {"domain": [-0.45, 26.76], "nice": false, "zero": false}},
              "text": {"field": "panel"}
            }
          }
        ]
      },
      {
        "width": 252, "height": 347,
        "layer": [
          {
            "data": {"name": "points"},
            "transform": [{"filter": {"field": "panel", "equal": "Medical"}}, {"flatten": ["admission"]}],
            "mark": {"type": "point", "filled": true, "size": 240, "opacity": 1, "strokeWidth": 1.5},
            "encoding": {
              "x": {"field": "admission", "type": "quantitative", "scale": {"domain": [-0.5, 24.4], "nice": false, "zero": false}, "axis": {"orient": "bottom", "values": [0, 5, 10, 15, 20], "labelPadding": 8.5, "title": null}},
              "y": {"field": "discharge", "type": "quantitative", "scale": {"domain": [-0.45, 26.76], "nice": false, "zero": false}, "axis": {"orient": "left", "values": [0, 5, 10, 15, 20], "labels": false, "ticks": false, "title": null}},
              "shape": {"field": "destination", "type": "nominal", "legend": null, "scale": {"domain": ["Home with no care", "Home with care", "Private hospital", "Rest home"], "range": ["M-0.75,0L0.75,0M0,-1L0,1M-0.53,-0.71L0.53,0.71M-0.53,0.71L0.53,-0.71", "M-0.68,-0.645L0.68,-0.645L0.68,0.645L-0.68,0.645Z", "M-0.75,0L0.75,0M0,-1L0,1", "M-0.7,-0.65L0.7,0.65M-0.7,0.65L0.7,-0.65"]}},
              "fill": {"field": "destination", "type": "nominal", "legend": null, "scale": {"domain": ["Home with no care", "Home with care", "Private hospital", "Rest home"], "range": ["transparent", "#9ACD32", "transparent", "transparent"]}},
              "stroke": {"field": "destination", "type": "nominal", "legend": null, "scale": {"domain": ["Home with no care", "Home with care", "Private hospital", "Rest home"], "range": ["#FFD700", "transparent", "#FF0000", "#63B8FF"]}}
            }
          },
          {
            "data": {"name": "labels"},
            "transform": [{"filter": {"field": "panel", "equal": "Medical"}}],
            "mark": {"type": "text", "fontSize": 13.5, "baseline": "middle", "align": "center", "color": "black", "lineBreak": "\n", "lineHeight": 26.7},
            "encoding": {
              "x": {"field": "x", "type": "quantitative", "scale": {"domain": [-0.5, 24.4], "nice": false, "zero": false}},
              "y": {"field": "y", "type": "quantitative", "scale": {"domain": [-0.45, 26.76], "nice": false, "zero": false}},
              "text": {"field": "text"}
            }
          },
          {
            "data": {"name": "strips"},
            "transform": [{"filter": {"field": "panel", "equal": "Medical"}}],
            "mark": {"type": "rect", "fill": "#FFE5CC", "stroke": "black", "strokeWidth": 1},
            "encoding": {
              "x": {"datum": -0.5, "type": "quantitative", "scale": {"domain": [-0.5, 24.4], "nice": false, "zero": false}},
              "x2": {"datum": 24.4},
              "y": {"datum": 24.55, "type": "quantitative", "scale": {"domain": [-0.45, 26.76], "nice": false, "zero": false}},
              "y2": {"datum": 26.76}
            }
          },
          {
            "data": {"name": "strips"},
            "transform": [{"filter": {"field": "panel", "equal": "Medical"}}],
            "mark": {"type": "text", "fontSize": 23, "baseline": "middle", "align": "center", "color": "black"},
            "encoding": {
              "x": {"datum": 11.95, "type": "quantitative", "scale": {"domain": [-0.5, 24.4], "nice": false, "zero": false}},
              "y": {"datum": 25.655, "type": "quantitative", "scale": {"domain": [-0.45, 26.76], "nice": false, "zero": false}},
              "text": {"field": "panel"}
            }
          }
        ]
      }
    ]
  }
]
}
